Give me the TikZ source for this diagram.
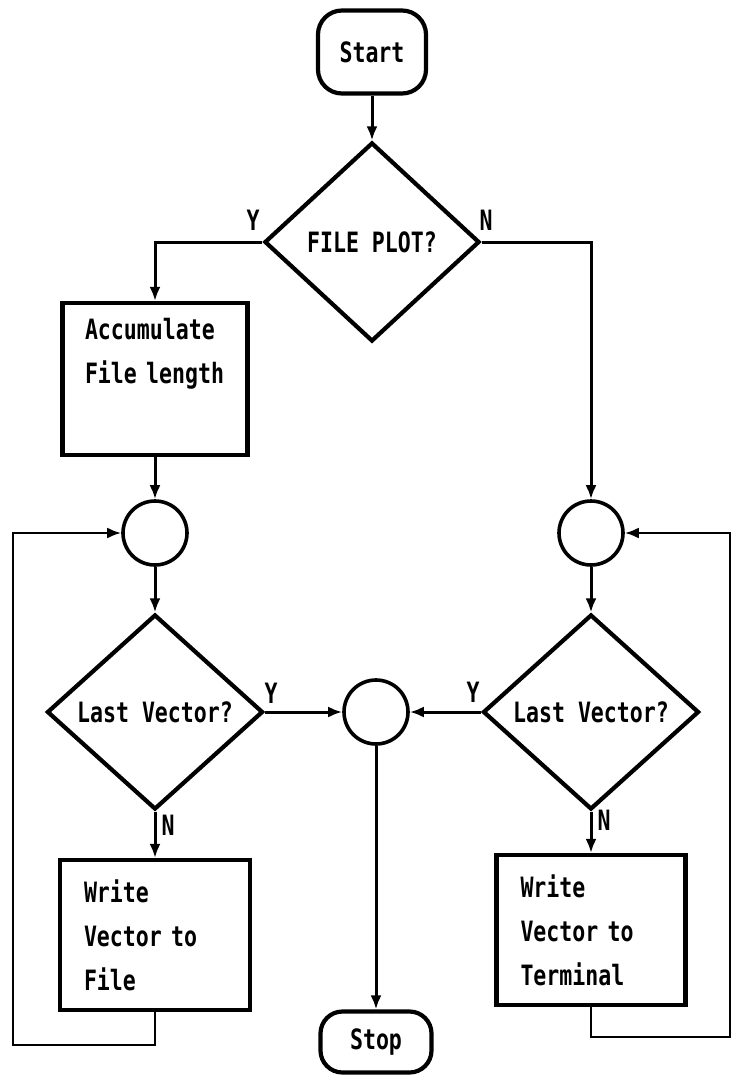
\documentclass[tikz,border=0pt]{standalone}
\usepackage{fontspec}
\newfontfamily\flowfont[FakeStretch=0.77]{DejaVu Sans Mono Bold}
\usetikzlibrary{shapes.geometric,arrows.meta}

\tikzset{
  every node/.style={font=\flowfont\fontsize{28}{44}\selectfont},
  shapeline/.style={draw, line width=4.2pt},
  term/.style={shapeline, rectangle, rounded corners=24pt, inner sep=0pt},
  decide/.style={shapeline, diamond, inner sep=0pt},
  junction/.style={draw, line width=3.6pt, circle, minimum size=64pt, inner sep=0pt},
  procbox/.style={shapeline, rectangle, align=left, inner ysep=0pt},
  flow/.style={line width=3pt, -{Latex[length=14pt,width=11pt]}},
  backflow/.style={line width=2.6pt, -{Latex[length=14pt,width=11pt]}},
  yn/.style={inner sep=0pt}
}

\begin{document}
\begin{tikzpicture}[x=1pt,y=-1pt]
\useasboundingbox (0,0) rectangle (734,1077);

% terminals
\node[term, minimum width=108pt, minimum height=83pt] (start) at (372,52) {Start};
\node[term, minimum width=111pt, minimum height=61pt, rounded corners=22pt] (stop) at (376,1042) {Stop};

% decisions
\node[decide, minimum width=215pt, minimum height=199pt] (fp) at (372,242) {FILE PLOT?};
\node[decide, minimum width=216pt, minimum height=195pt] (ld) at (155,712) {Last Vector?};
\node[decide, minimum width=216pt, minimum height=195pt] (rd) at (591,712) {Last Vector?};

% processing boxes
\node[procbox, minimum width=185pt, minimum height=152pt, text width=140pt, inner xsep=22.5pt] (acc) at (155,379) {Accumulate\\File length\\\strut};
\node[procbox, minimum width=190pt, minimum height=150pt, text width=142pt, inner xsep=24pt] (wf) at (155,935) {Write\\Vector to\\File};
\node[procbox, minimum width=189pt, minimum height=150pt, text width=141pt, inner xsep=24pt] (wt) at (591,930) {Write\\Vector to\\Terminal};

% connector circles
\node[junction] (c1) at (155,533) {};
\node[junction] (c2) at (591,533) {};
\node[junction] (c3) at (376,712) {};

% branch labels
\node[yn] (yfp) at (253,220) {Y};
\node[yn] (nfp) at (486,220) {N};
\node[yn] (yld) at (271,693) {Y};
\node[yn] (yrd) at (473,692) {Y};
\node[yn] (nld) at (168,825) {N};
\node[yn] (nrd) at (604,820) {N};

% loop corners
\coordinate (lb) at (13,1045);
\coordinate (rb) at (730,1037);

% main flow
\draw[flow] (start) -- (fp);
\draw[flow] (fp.west) -| (acc.north);
\draw[flow] (fp.east) -| (c2.north);
\draw[flow] (acc) -- (c1);
\draw[flow] (c1) -- (ld);
\draw[flow] (c2) -- (rd);
\draw[flow] (ld.east) -- (c3.west);
\draw[flow] (rd.west) -- (c3.east);
\draw[flow] (ld.south) -- (wf.north);
\draw[flow] (rd.south) -- (wt.north);
\draw[flow] (c3) -- (stop);

% loops back to the circles
\draw[backflow] (wf.south) |- (lb) |- (c1.west);
\draw[backflow] (wt.south) |- (rb) |- (c2.east);
\end{tikzpicture}
\end{document}
